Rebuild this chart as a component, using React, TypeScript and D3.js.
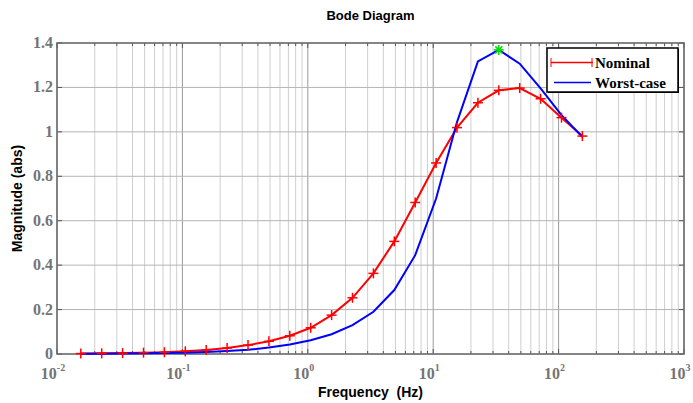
import React from "react";
import * as d3 from "d3";

const freqHz = [0.01592, 0.02336, 0.03429, 0.05033, 0.07387, 0.10843, 0.15915, 0.2336, 0.3429, 0.5033, 0.7387, 1.0843, 1.5915, 2.336, 3.429, 5.033, 7.387, 10.843, 15.915, 23.36, 34.29, 50.33, 73.87, 108.43, 159.15];
const nominal = [0.002, 0.003, 0.004, 0.006, 0.008, 0.012, 0.018, 0.027, 0.040, 0.057, 0.082, 0.118, 0.175, 0.253, 0.363, 0.507, 0.682, 0.860, 1.019, 1.131, 1.187, 1.197, 1.149, 1.064, 0.981];
const worst = [0.001, 0.0015, 0.002, 0.003, 0.004, 0.006, 0.009, 0.013, 0.019, 0.029, 0.043, 0.062, 0.089, 0.130, 0.190, 0.288, 0.445, 0.700, 1.044, 1.317, 1.369, 1.307, 1.196, 1.075, 0.977];
const peakIndex = 20;
const yTicks = [0, 0.2, 0.4, 0.6, 0.8, 1, 1.2, 1.4];
const yTickLabels = ["0", "0.2", "0.4", "0.6", "0.8", "1", "1.2", "1.4"];
const xDecades = [-2, -1, 0, 1, 2, 3];
const legendLabels = ["Nominal", "Worst-case"];

const W = 693, H = 403;
const L = 57, R = 684, T = 43, B = 354;

export default function App() {
  const x = d3.scaleLog().domain([0.01, 1000]).range([L, R]);
  const y = d3.scaleLinear().domain([0, 1.4]).range([B, T]);

  const minor: number[] = [];
  for (let d = -2; d <= 2; d++) for (let m = 2; m <= 9; m++) minor.push(m * Math.pow(10, d));
  const majors = xDecades.map((d) => Math.pow(10, d));

  const line = d3.line<number>().x((_, i) => x(freqHz[i]) - 1.5).y((v) => y(v));
  const serif = "'Liberation Serif', 'Times New Roman', serif";
  const sans = "'Liberation Sans', Arial, sans-serif";
  const tickColor = "#747474";

  const plus = (cx: number, cy: number, key: string, color: string) => (
    <g key={key} stroke={color} strokeWidth={1.5}>
      <line x1={cx - 5} x2={cx + 5} y1={cy} y2={cy} />
      <line x1={cx} x2={cx} y1={cy - 5} y2={cy + 5} />
    </g>
  );

  const px = x(freqHz[peakIndex]) - 1.5;
  const py = y(worst[peakIndex]);

  return (
    <svg width={W} height={H} style={{ position: "absolute", left: 0, top: 0, background: "#fff" }}>
      <rect x={0} y={0} width={W} height={H} fill="#fff" />
      {minor.map((f, i) => (
        <line key={"mg" + i} x1={x(f)} x2={x(f)} y1={T} y2={B} stroke="#cfcfcf" strokeWidth={1} />
      ))}
      {majors.map((f, i) => (
        <line key={"Mg" + i} x1={x(f)} x2={x(f)} y1={T} y2={B} stroke="#9a9a9a" strokeWidth={1} />
      ))}
      {yTicks.map((v, i) => (
        <line key={"hg" + i} x1={L} x2={R} y1={y(v)} y2={y(v)} stroke="#b4b4b4" strokeWidth={1} />
      ))}
      {minor.concat(majors).map((f, i) => (
        <g key={"tk" + i} stroke="#555" strokeWidth={1}>
          <line x1={x(f)} x2={x(f)} y1={T} y2={T + (majors.includes(f) ? 5 : 3)} />
          <line x1={x(f)} x2={x(f)} y1={B} y2={B - (majors.includes(f) ? 5 : 3)} />
        </g>
      ))}
      {yTicks.map((v, i) => (
        <g key={"yt" + i} stroke="#555" strokeWidth={1}>
          <line x1={L} x2={L + 5} y1={y(v)} y2={y(v)} />
          <line x1={R} x2={R - 5} y1={y(v)} y2={y(v)} />
        </g>
      ))}
      <rect x={L} y={T} width={R - L} height={B - T} fill="none" stroke="#6a6a6a" strokeWidth={1.5} />

      <path d={line(nominal) || ""} fill="none" stroke="#ff0000" strokeWidth={2} />
      <path d={line(worst) || ""} fill="none" stroke="#0000ff" strokeWidth={2} />
      {nominal.map((v, i) => plus(x(freqHz[i]) - 1.5, y(v), "m" + i, "#ff0000"))}
      <g stroke="#00dd00" strokeWidth={1.5}>
        <line x1={px - 5} x2={px + 5} y1={py} y2={py} />
        <line x1={px} x2={px} y1={py - 5} y2={py + 5} />
        <line x1={px - 3.5} x2={px + 3.5} y1={py - 3.5} y2={py + 3.5} />
        <line x1={px - 3.5} x2={px + 3.5} y1={py + 3.5} y2={py - 3.5} />
      </g>

      {yTicks.map((v, i) => (
        <text key={"yl" + i} x={L - 4} y={y(v) + 5} textAnchor="end" fontFamily={serif} fontWeight="bold" fontSize={16} fill={tickColor}>
          {yTickLabels[i]}
        </text>
      ))}
      {xDecades.map((d, i) => (
        <text key={"xl" + i} x={x(Math.pow(10, d)) - 4} y={379} textAnchor="middle" fontFamily={serif} fontWeight="bold" fontSize={16} fill={tickColor}>
          10
          <tspan dy={-8} fontSize={10}>{String(d)}</tspan>
        </text>
      ))}

      <text x={(L + R) / 2} y={20} textAnchor="middle" fontFamily={sans} fontWeight="bold" fontSize={13}>Bode Diagram</text>
      <text x={(L + R) / 2} y={397} textAnchor="middle" fontFamily={sans} fontWeight="bold" fontSize={14} style={{ whiteSpace: "pre" }}>Frequency  (Hz)</text>
      <text transform={`translate(22,${(T + B) / 2}) rotate(-90)`} textAnchor="middle" fontFamily={sans} fontWeight="bold" fontSize={14}>Magnitude (abs)</text>

      <rect x={547} y={48} width={131} height={44} fill="#fff" stroke="#000" strokeWidth={1.5} />
      <line x1={678.5} x2={678.5} y1={49} y2={93} stroke="#000" strokeWidth={1} />
      <line x1={548} x2={679} y1={92.5} y2={92.5} stroke="#000" strokeWidth={1} />
      <line x1={551} x2={593} y1={62.5} y2={62.5} stroke="#ff0000" strokeWidth={1.5} />
      <line x1={551} x2={551} y1={58} y2={67} stroke="#ff0000" strokeWidth={1} />
      <line x1={592} x2={592} y1={58} y2={67} stroke="#ff0000" strokeWidth={1} />
      <line x1={554} x2={591} y1={82.5} y2={82.5} stroke="#0000ff" strokeWidth={1.5} />
      <text x={595} y={68} fontFamily={serif} fontWeight="bold" fontSize={15}>{legendLabels[0]}</text>
      <text x={595} y={88} fontFamily={serif} fontWeight="bold" fontSize={15}>{legendLabels[1]}</text>
    </svg>
  );
}
